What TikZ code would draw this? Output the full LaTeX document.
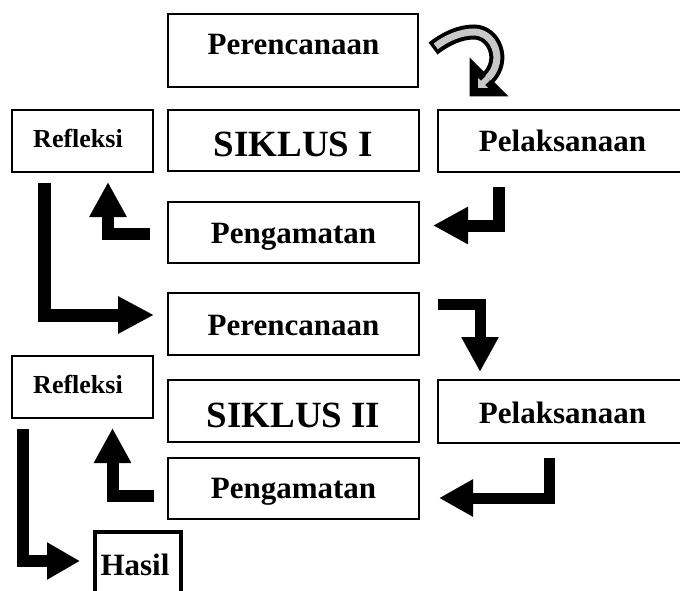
\documentclass[tikz,border=0pt]{standalone}
\usepackage{fontspec}
\setmainfont{Liberation Serif}
\usetikzlibrary{arrows.meta,calc}
\definecolor{lg}{RGB}{200,200,200}
\begin{document}
\begin{tikzpicture}[x=1pt,y=-1pt,
  bx/.style 2 args={draw=black, line width=1.3pt, minimum width=#1, minimum height=#2, inner sep=0pt, outer sep=0pt},
  txt/.style={font=\bfseries\fontsize{31}{36}\selectfont, inner sep=0pt, anchor=base},
  txts/.style={font=\bfseries\fontsize{26}{30}\selectfont, inner sep=0pt, anchor=base},
  txtb/.style={font=\bfseries\fontsize{37}{42}\selectfont, inner sep=0pt, anchor=base},
  blk/.style 2 args={draw=black, line width=#1, line join=miter, -{Triangle[length=#2,width=35pt]}}
]
\useasboundingbox (0,0) rectangle (680,591);
\clip (0,0) rectangle (680,591);

% boxes
\node[bx={250pt}{73pt}] (per1) at (293,50.5) {};
\node[bx={141pt}{62pt}] (ref1) at (82.5,141) {};
\node[bx={251pt}{61pt}] (sik1) at (293.5,140.5) {};
\node[bx={250pt}{62pt}] (pel1) at (563,141) {};
\node[bx={251pt}{61pt}] (pen1) at (293.5,232.5) {};
\node[bx={251pt}{62pt}] (per2) at (293.5,324) {};
\node[bx={141pt}{62pt}] (ref2) at (82.5,387) {};
\node[bx={251pt}{62pt}] (sik2) at (293.5,411) {};
\node[bx={250pt}{63pt}] (pel2) at (563,411.5) {};
\node[bx={251pt}{61pt}] (pen2) at (293.5,488.5) {};
\node[draw=black, line width=4pt, minimum width=86pt, minimum height=90pt, inner sep=0pt] (has) at (138,577) {};

% texts
\node[txt]  (per1t) at ($(per1.center)+(0.5,4.5)$) {Perencanaan};
\node[txts] (ref1t) at ($(ref1.center)+(-4.5,6)$) {Refleksi};
\node[txtb] (sik1t) at ($(sik1.center)+(0,16.5)$) {SIKLUS I};
\node[txt]  (pel1t) at ($(pel1.center)+(-0.5,11)$) {Pelaksanaan};
\node[txt]  (pen1t) at ($(pen1.center)+(0,10.5)$) {Pengamatan};
\node[txt]  (per2t) at ($(per2.center)+(0,11)$) {Perencanaan};
\node[txts] (ref2t) at ($(ref2.center)+(-4.5,6)$) {Refleksi};
\node[txtb] (sik2t) at ($(sik2.center)+(0,16)$) {SIKLUS II};
\node[txt]  (pel2t) at ($(pel2.center)+(-0.5,11.5)$) {Pelaksanaan};
\node[txt]  (pen2t) at ($(pen2.center)+(0,10)$) {Pengamatan};
\node[txt]  (hast)  at (135,575) {Hasil};

% arrow coordinates
\coordinate (a1s) at (499,187);   \coordinate (a1e) at (433,225.5);
\coordinate (a2s) at (150,234);   \coordinate (a2e) at (108,182);
\coordinate (a3s) at (44,183);    \coordinate (a3e) at (154,315);
\coordinate (a4s) at (438,304.5); \coordinate (a4e) at (480,372);
\coordinate (a5s) at (549,458);   \coordinate (a5e) at (439,498);
\coordinate (a6s) at (154,495.5); \coordinate (a6e) at (112.5,428);
\coordinate (a7s) at (22.5,429);  \coordinate (a7e) at (80,561);

\draw[blk={12pt}{35pt}] (a1s) |- (a1e);
\draw[blk={12pt}{35pt}] (a2s) -| (a2e);
\draw[blk={13pt}{36pt}] (a3s) |- (a3e);
\draw[blk={11pt}{35pt}] (a4s) -| (a4e);
\draw[blk={11pt}{34pt}] (a5s) |- (a5e);
\draw[blk={12pt}{35pt}] (a6s) -| (a6e);
\draw[blk={12pt}{33pt}] (a7s) |- (a7e);

% curved hollow arrow
\coordinate (c0) at (433,48.5);
\coordinate (c1) at (474,32);
\coordinate (c2) at (488,78);
\coordinate (hT) at (471,95);
\coordinate (hA) at (471,61);
\coordinate (hB) at (505,95);
\draw[line width=15pt, black] (c0) .. controls (446,38.5) and (460,32) .. (c1)
      .. controls (494,32) and (506,60) .. (c2);
\filldraw[black, line width=3pt, line join=miter] (hT) -- (hA) -- (hB) -- cycle;
\draw[line width=7pt, lg, shorten <=3.5pt] (c0) .. controls (446,38.5) and (460,32) .. (c1)
      .. controls (494,32) and (506,60) .. (c2);
\draw[line width=6pt, lg] (c2) -- (482,84);
\fill[lg] (478,88) -- (478,77.9) -- (488.1,88) -- cycle;
\end{tikzpicture}
\end{document}
